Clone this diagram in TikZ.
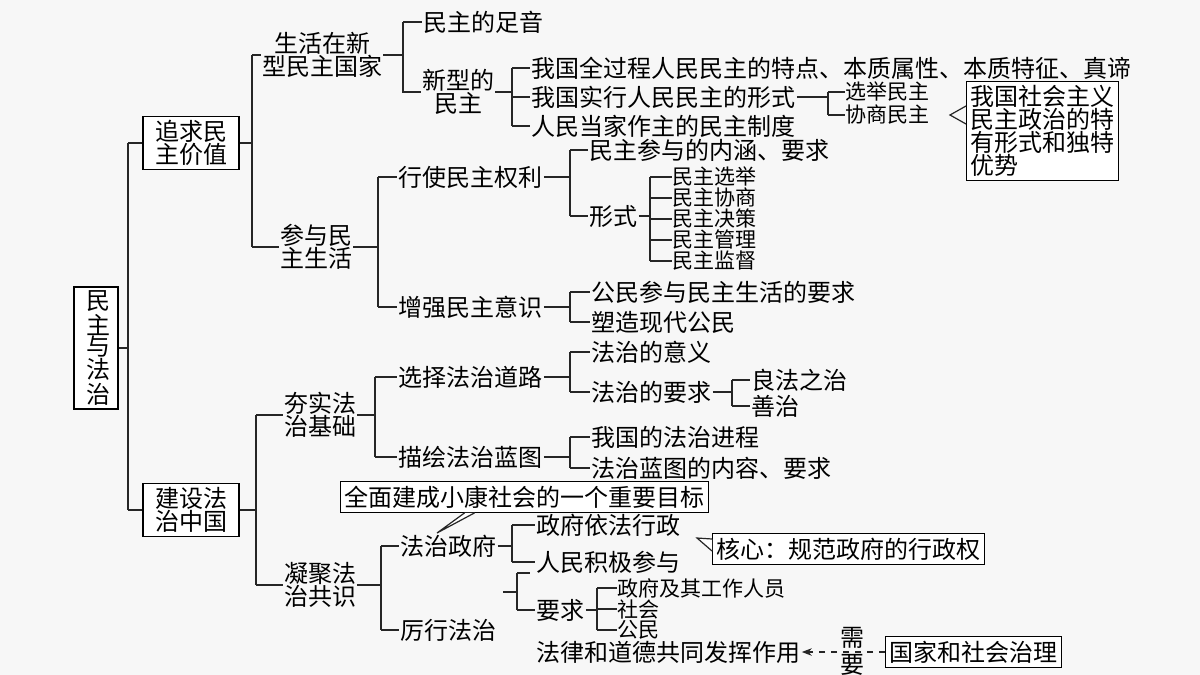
\documentclass[tikz,border=0pt]{standalone}
\usepackage{fontspec}
\usepackage{tikz}
\usetikzlibrary{arrows.meta}
\newfontfamily\zhfont{Noto Sans CJK SC}
\tikzset{
    item/.style = {
        font=\zhfont\fontsize{12}{11.5}\selectfont,
        inner sep=0.5pt,
        anchor=west,
        align=center
    },
    tightitem/.style = {
        item,
        font=\zhfont\fontsize{10.5}{10}\selectfont,
        inner sep=0pt
    },
    twoline/.style = {
        item,
        anchor=center
    },
    boxnode/.style = {
        item,
        draw=black,
        line width=0.6pt,
        inner sep=2pt,
        fill=white
    },
    conn/.style = {
        line width=0.6pt,
        draw=black!85
    }
}
% parent, spine x, first child, last child, all children
\newcommand{\fork}[5]{%
    \coordinate (sp) at (#2,0);
    \draw[conn] (#1.east) -- (#1.east -| sp);
    \draw[conn] (#3.west -| sp) -- (#4.west -| sp);
    \foreach \c in {#5} {\draw[conn] (\c.west -| sp) -- (\c.west);}
}
\begin{document}
\begin{tikzpicture}[x=0.5pt,y=-0.5pt]
    \fill[black!3] (0,0) rectangle (1200,675);
    \useasboundingbox (0,0) rectangle (1200,675);
    % root and first level
    \node [boxnode, anchor=center, minimum width=22pt, minimum height=53pt, text width=1em, font=\zhfont\fontsize{12}{10.5}\selectfont] (root) at (96,348) {民\\主\\与\\法\\治};
    \node [boxnode, anchor=center, minimum width=48pt] (zq) at (191,143) {追求民\\主价值};
    \node [boxnode, anchor=center, minimum width=48pt] (js) at (191,510) {建设法\\治中国};
    \fork{root}{128}{zq}{js}{zq,js}
    % 追求民主价值
    \node [twoline] (sh) at (322,55) {生活在新\\型民主国家};
    \node [twoline] (cy) at (316,247) {参与民\\主生活};
    \fork{zq}{252}{sh}{cy}{sh,cy}
    \node [item] (zy) at (422,22) {民主的足音};
    \node [twoline] (xx) at (458,92) {新型的\\民主};
    \fork{sh}{403}{zy}{xx}{zy}
    \draw[conn] (zy.west -| sp) |- (xx.west);
    \node [item] (td) at (530,68) {我国全过程人民民主的特点、本质属性、本质特征、真谛};
    \node [item] (xs) at (530,97) {我国实行人民民主的形式};
    \node [item] (zd) at (530,126) {人民当家作主的民主制度};
    \fork{xx}{512}{td}{zd}{td,xs,zd}
    \node [tightitem] (xj) at (845,92) {选举民主};
    \node [tightitem] (xsh) at (845,115) {协商民主};
    \fork{xs}{828}{xj}{xsh}{xj,xsh}
    \node [boxnode, anchor=north west, align=left] (cb) at (966,81) {我国社会主义\\民主政治的特\\有形式和独特\\优势};
    \draw[conn] (cb.north west) ++(0,25) -- ++(-16,9) -- ++(16,9);
    % 参与民主生活
    \node [item] (xq) at (397,177) {行使民主权利};
    \node [item] (zq2) at (397,307) {增强民主意识};
    \fork{cy}{378}{xq}{zq2}{xq,zq2}
    \node [item] (nh) at (588,150) {民主参与的内涵、要求};
    \node [item] (xsf) at (588,216) {形式};
    \fork{xq}{570}{nh}{xsf}{nh,xsf}
    \foreach \n/\t [count=\i] in {a/民主选举,b/民主协商,c/民主决策,d/民主管理,e/民主监督}
        \node [tightitem] (m\n) at (672,156+\i*21) {\t};
    \fork{xsf}{650}{ma}{me}{ma,mb,mc,md,me}
    \node [item] (gm) at (590,292) {公民参与民主生活的要求};
    \node [item] (sz) at (590,322) {塑造现代公民};
    \fork{zq2}{570}{gm}{sz}{gm,sz}
    % 建设法治中国
    \node [twoline] (hs) at (320,415) {夯实法\\治基础};
    \node [twoline] (nj) at (320,585) {凝聚法\\治共识};
    \fork{js}{256}{hs}{nj}{hs,nj}
    \node [item] (xz) at (397,377) {选择法治道路};
    \node [item] (mh) at (397,457) {描绘法治蓝图};
    \fork{hs}{375}{xz}{mh}{xz,mh}
    \node [item] (yy) at (590,352) {法治的意义};
    \node [item] (yq) at (590,392) {法治的要求};
    \fork{xz}{570}{yy}{yq}{yy,yq}
    \node [item] (lf) at (750,380) {良法之治};
    \node [item] (sz2) at (750,406) {善治};
    \fork{yq}{732}{lf}{sz2}{lf,sz2}
    \node [item] (jc) at (590,437) {我国的法治进程};
    \node [item] (nr) at (590,468) {法治蓝图的内容、要求};
    \fork{mh}{570}{jc}{nr}{jc,nr}
    \node [item] (zf) at (399,546) {法治政府};
    \node [item] (lx) at (399,630) {厉行法治};
    \fork{nj}{381}{zf}{lx}{zf,lx}
    \node [item] (yf) at (535,525) {政府依法行政};
    \node [item] (rm) at (535,562) {人民积极参与};
    \fork{zf}{512}{yf}{rm}{yf,rm}
    \coordinate (ls) at (503,592);
    \coordinate (lt) at (530,573);
    \node [item] (yq2) at (535,610) {要求};
    \fork{ls}{517}{lt}{yq2}{yq2}
    \draw[conn] (lt -| sp) -- (lt);
    \foreach \n/\t [count=\i] in {a/政府及其工作人员,b/社会,c/公民}
        \node [tightitem] (r\n) at (617,567+\i*21) {\t};
    \fork{yq2}{597}{ra}{rc}{ra,rb,rc}
    % callouts
    \node [boxnode, anchor=west] (mb) at (340,497) {全面建成小康社会的一个重要目标};
    \draw[conn, fill=white] ([xshift=-30pt]mb.south) -- (437,533) -- ([xshift=-25pt]mb.south);
    \node [boxnode, anchor=west] (hx) at (712,549) {核心：规范政府的行政权};
    \draw[conn, fill=white] ([yshift=5pt]hx.west) -- (697,538) -- ([yshift=-1pt]hx.west);
    % bottom
    \node [item] (fl) at (535,652) {法律和道德共同发挥作用};
    \node [boxnode, anchor=west] (gj) at (885,652) {国家和社会治理};
    \draw[conn, dashed, -{Stealth[length=5pt]}] (gj.west) -- (fl.east);
    \node [item, anchor=center] (xu) at (852,638) {需};
    \node [item, anchor=center] (yao) at (852,665) {要};
\end{tikzpicture}
\end{document}
